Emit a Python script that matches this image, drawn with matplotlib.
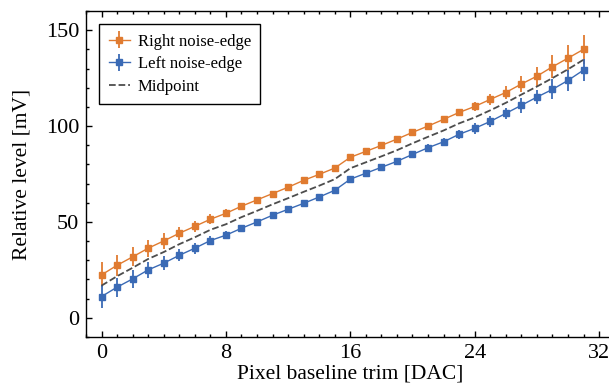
import numpy as np
import matplotlib
matplotlib.use('Agg')
import matplotlib.pyplot as plt
from matplotlib.ticker import MultipleLocator

plt.rcParams['font.family'] = ['Liberation Serif', 'DejaVu Serif']
plt.rcParams['mathtext.fontset'] = 'stix'

# Datos
trim = list(range(32))
right_edge = [22.4, 27.4, 31.8, 36.3, 40.1, 44.1, 47.7, 51.4, 54.5, 58.2, 61.5, 64.8,
              68.1, 71.7, 74.8, 78.1, 83.7, 86.8, 89.9, 93.2, 96.7, 100.0, 103.5, 107.1,
              110.2, 113.9, 117.5, 121.9, 126.0, 130.9, 135.4, 140.0]
right_err = [6.5, 5.5, 5.0, 4.5, 4.0, 3.5, 3.0, 2.5, 2.0, 1.6, 1.3, 1.0, 0.8, 0.7, 0.6, 0.6,
             0.8, 0.9, 1.0, 1.1, 1.2, 1.5, 1.8, 2.0, 2.5, 3.0, 3.2, 4.2, 5.0, 6.0, 7.0, 7.4]
left_edge = [11.1, 16.0, 20.3, 25.0, 28.5, 32.6, 36.3, 40.3, 43.1, 46.7, 50.0, 53.5,
             56.6, 59.7, 63.0, 66.5, 72.3, 75.4, 78.5, 81.6, 85.2, 88.7, 91.8, 95.7,
             98.8, 102.4, 106.6, 110.8, 115.1, 119.1, 123.8, 129.2]
left_err = [6.0, 5.0, 4.5, 4.0, 3.5, 3.2, 2.8, 2.4, 2.0, 1.6, 1.3, 1.0, 0.8, 0.7, 0.6, 0.6,
            0.8, 0.9, 1.0, 1.2, 1.5, 1.8, 2.0, 2.5, 2.8, 3.0, 3.0, 4.0, 3.8, 5.2, 5.4, 5.8]
midpoint = [16.8, 21.7, 26.1, 30.7, 34.3, 38.4, 42.0, 45.9, 48.8, 52.5, 55.8, 59.2,
            62.4, 65.7, 68.9, 72.3, 78.0, 81.1, 84.2, 87.4, 91.0, 94.4, 97.7, 101.4,
            104.5, 108.2, 112.1, 116.4, 120.6, 125.0, 129.6, 134.6]

orange = '#e07b30'
blue = '#3a6ab5'

fig = plt.figure(figsize=(6.09, 3.90), dpi=100)
ax = fig.add_axes([86/609, 1-337/390, (614.6-86)/609, (337-11)/390])

h1 = ax.errorbar(trim, right_edge, yerr=right_err, fmt='s-', color=orange, ms=5,
                 lw=1.0, elinewidth=1.3, capsize=0, label='Right noise-edge')
h2 = ax.errorbar(trim, left_edge, yerr=left_err, fmt='s-', color=blue, ms=5,
                 lw=1.0, elinewidth=1.3, capsize=0, label='Left noise-edge')
h3, = ax.plot(trim, midpoint, '--', color='#4d4d4d', lw=1.3, label='Midpoint')

ax.set_xlim(-1, 33)
ax.set_ylim(-10, 160)
ax.xaxis.set_major_locator(MultipleLocator(8))
ax.xaxis.set_minor_locator(MultipleLocator(1))
ax.yaxis.set_major_locator(MultipleLocator(50))
ax.yaxis.set_minor_locator(MultipleLocator(10))
ax.tick_params(which='both', direction='in', top=True, right=True, labelsize=16, width=1)
ax.tick_params(which='major', length=4, pad=5)
ax.tick_params(which='minor', length=2.5)
for s in ax.spines.values():
    s.set_linewidth(1)

ax.set_xlabel('Pixel baseline trim [DAC]', fontsize=15.5, labelpad=1)
ax.set_ylabel('Relative level [mV]', fontsize=15.5, labelpad=10)

leg = ax.legend([h1, h2, h3], ['Right noise-edge', 'Left noise-edge', 'Midpoint'],
                loc='upper left', fontsize=12, fancybox=False, edgecolor='black',
                framealpha=1, borderpad=0.55, borderaxespad=0.8, handlelength=1.3,
                handletextpad=0.45, labelspacing=0.4)
leg.get_frame().set_linewidth(1)

plt.savefig('out.png', dpi=100)
